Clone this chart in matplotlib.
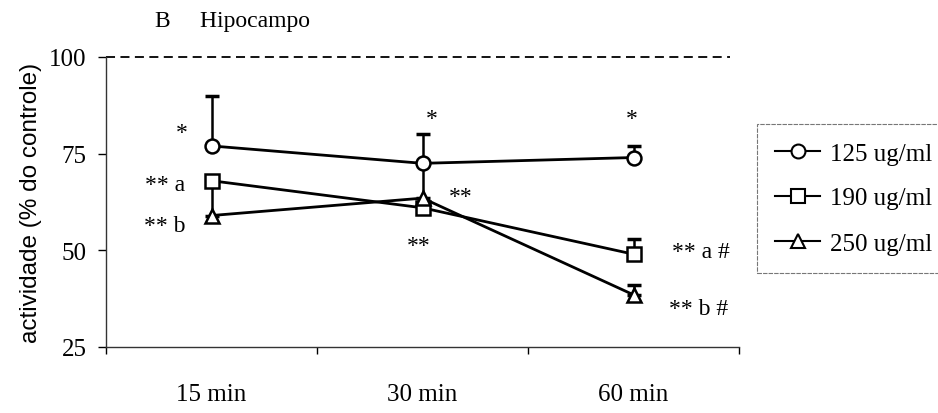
import matplotlib
matplotlib.use("Agg")
import matplotlib.pyplot as plt
from matplotlib.lines import Line2D

# Data
times = ["15 min", "30 min", "60 min"]
doses = ["125 ug/ml", "190 ug/ml", "250 ug/ml"]
act_125 = [77, 72.5, 74]
act_190 = [68, 61, 49]
act_250 = [59, 63.5, 38.5]
err_125 = [13, 7.5, 3]
err_190 = [0, 0, 4]
err_250 = [8, 9, 2.5]
yticks = [25, 50, 75, 100]

serif = "Liberation Serif"
sans = "Liberation Sans"

fig = plt.figure(figsize=(9.38, 4.14), dpi=100)
ax = fig.add_axes([106 / 938, 1 - 348 / 414, 633 / 938, 290 / 414])

xpos = [0.5, 1.5, 2.5]
markers = ["o", "s", "^"]
series = [act_125, act_190, act_250]
errs = [err_125, err_190, err_250]

for vals, err, mk in zip(series, errs, markers):
    ax.errorbar(xpos, vals, yerr=[[0] * 3, err], fmt="none", ecolor="black",
                elinewidth=1.8, capsize=5, capthick=2.5, zorder=2)
for vals, mk in zip(series, markers):
    ax.plot(xpos, vals, color="black", lw=2, marker=mk, markersize=10,
            markerfacecolor="white", markeredgecolor="black",
            markeredgewidth=1.8, zorder=3)

# reference level (100 % of control)
ax.axhline(100, xmin=0, xmax=624 / 633, color="black", lw=1.3,
           dashes=(5, 3), zorder=1, clip_on=False)

ax.set_xlim(0, 3)
ax.set_ylim(25, 100)
ax.set_yticks(yticks)
ax.set_yticklabels([str(t) for t in yticks], family=serif, fontsize=18)
ax.set_xticks([0, 1, 2, 3])
ax.set_xticklabels([])
ax.set_xticks(xpos, minor=True)
ax.set_xticklabels(times, minor=True, family=serif, fontsize=18)
ax.tick_params(axis="x", which="major", length=5, width=1, direction="out")
ax.tick_params(axis="x", which="minor", length=0, pad=26)
ax.tick_params(axis="y", length=6, width=1, pad=8)
for s in ["top", "right"]:
    ax.spines[s].set_visible(False)
for s in ["left", "bottom"]:
    ax.spines[s].set_linewidth(1.0)
    ax.spines[s].set_color("#333333")

ax.set_ylabel("actividade (% do controle)", family=sans, fontsize=17.5,
              labelpad=5)

# significance marks
ann = [
    (0.36, 80.5, "*"),
    (0.28, 67.0, "** a"),
    (0.28, 56.5, "** b"),
    (1.545, 84.0, "*"),
    (1.68, 64.0, "**"),
    (1.48, 51.2, "**"),
    (2.49, 84.0, "*"),
    (2.82, 49.8, "** a #"),
    (2.81, 35.0, "** b #"),
]
for x, y, t in ann:
    ax.text(x, y, t, family=serif, fontsize=17, ha="center", va="center",
            clip_on=False)

fig.text(155 / 938, 1 - 22 / 414, "B     Hipocampo", family=serif, fontsize=17,
         ha="left", va="center")

handles = [Line2D([], [], color="black", lw=1.5, marker=mk, markersize=10,
                  markerfacecolor="white", markeredgecolor="black",
                  markeredgewidth=1.5) for mk in markers]
leg = fig.legend(handles, doses, loc="upper left",
                 bbox_to_anchor=(757 / 938, 1 - 125 / 414),
                 prop={"family": serif, "size": 18}, frameon=True,
                 fancybox=False, handlelength=1.8, handletextpad=0.4,
                 labelspacing=0.9, borderpad=0.72, borderaxespad=0)
leg.get_frame().set_edgecolor("#555555")
leg.get_frame().set_linewidth(0.8)
leg.get_frame().set_linestyle((0, (4, 1)))

fig.savefig("out.png", dpi=100)
